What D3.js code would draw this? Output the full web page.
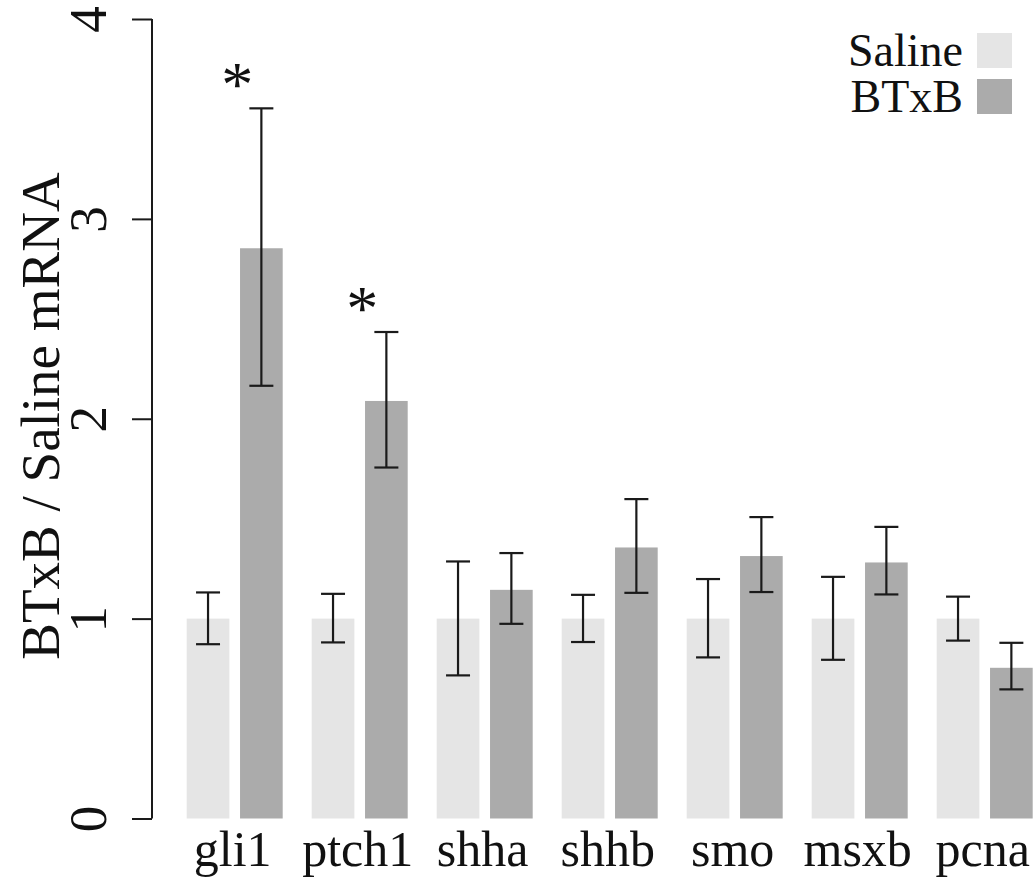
<!DOCTYPE html>
<html>
<head>
<meta charset="utf-8">
<script src="https://cdn.jsdelivr.net/npm/d3@7"></script>
<style>
  body { margin: 0; background: #fff; }
  svg text { font-family: "Liberation Serif", "DejaVu Serif", serif !important; fill: #111; }
</style>
</head>
<body>
<svg id="chart" width="1034" height="880" font-family="Liberation Serif, serif"></svg>
<script>
const genes = ['gli1', 'ptch1', 'shha', 'shhb', 'smo', 'msxb', 'pcna'];
const groups = ['Saline', 'BTxB'];
const salineMean = [1, 1, 1, 1, 1, 1, 1];
const salineLow = [0.872, 0.881, 0.716, 0.883, 0.806, 0.794, 0.89];
const salineHigh = [1.131, 1.124, 1.286, 1.119, 1.198, 1.209, 1.11];
const btxbMean = [2.853, 2.089, 1.144, 1.356, 1.313, 1.281, 0.754];
const btxbLow = [2.165, 1.756, 0.974, 1.129, 1.133, 1.121, 0.646];
const btxbHigh = [3.553, 2.434, 1.328, 1.598, 1.508, 1.459, 0.879];
const significant = ['gli1', 'ptch1'];
const yTicks = [0, 1, 2, 3, 4];

const svg = d3.select('#chart');
const colors = { Saline: '#e5e5e5', BTxB: '#ababab' };
const serif = '"Liberation Serif", serif';
const tickFont = 53;
const labelFont = 50;
const legendFont = 46;

// scales
const y = d3.scaleLinear().domain([0, 4]).range([818.5, 19]);
const x0 = d3.scaleBand().domain(genes).range([186.7, 1032.7]).paddingInner(0.232).paddingOuter(0);
const x1 = d3.scaleBand().domain(groups).range([0, x0.bandwidth()]).paddingInner(0.2);

const rows = [];
genes.forEach((g, i) => {
    rows.push({ gene: g, group: 'Saline', mean: salineMean[i], lo: salineLow[i], hi: salineHigh[i] });
    rows.push({ gene: g, group: 'BTxB', mean: btxbMean[i], lo: btxbLow[i], hi: btxbHigh[i] });
});
const cx = d => x0(d.gene) + x1(d.group) + x1.bandwidth() / 2;

// bars
svg.selectAll('rect.bar')
    .data(rows)
    .enter()
    .append('rect')
    .attr('class', 'bar')
    .attr('x', d => x0(d.gene) + x1(d.group))
    .attr('width', x1.bandwidth())
    .attr('y', d => y(d.mean))
    .attr('height', d => y(0) - y(d.mean))
    .style('fill', d => colors[d.group]);

// error bars
const err = svg.append('g').attr('stroke', '#1a1a1a').attr('stroke-width', 2.2);
const capW = 12;
rows.forEach(d => {
    err.append('line').attr('x1', cx(d)).attr('x2', cx(d)).attr('y1', y(d.lo)).attr('y2', y(d.hi));
    err.append('line').attr('x1', cx(d) - capW).attr('x2', cx(d) + capW).attr('y1', y(d.lo)).attr('y2', y(d.lo));
    err.append('line').attr('x1', cx(d) - capW).attr('x2', cx(d) + capW).attr('y1', y(d.hi)).attr('y2', y(d.hi));
});

// significance stars
rows.filter(d => d.group === 'BTxB' && significant.includes(d.gene)).forEach(d => {
    svg.append('text')
        .attr('x', cx(d) - 24)
        .attr('y', y(d.hi) - 2)
        .attr('text-anchor', 'middle')
        .style('font-family', serif)
        .style('font-size', '64px')
        .text('*');
});

// y axis
const yAxis = svg.append('g')
    .attr('transform', 'translate(152,0)')
    .call(d3.axisLeft(y).tickValues(yTicks).tickSize(20).tickFormat(d3.format('d')));
yAxis.attr('font-family', null).attr('font-size', null);
yAxis.select('.domain').attr('stroke', '#1a1a1a').attr('stroke-width', 2).attr('d', `M0,${y(0)}V${y(4)}`);
yAxis.selectAll('.tick line').attr('stroke', '#1a1a1a').attr('stroke-width', 2);
yAxis.selectAll('.tick text')
    .attr('x', null).attr('dy', null)
    .attr('transform', 'translate(-46,0) rotate(-90)')
    .attr('text-anchor', 'middle')
    .style('font-size', tickFont + 'px')
    .style('font-family', serif)
    .style('fill', '#111');

// y title
svg.append('text')
    .attr('transform', 'translate(59,416) rotate(-90)')
    .attr('text-anchor', 'middle')
    .style('font-family', serif)
    .style('font-size', '55px')
    .text('BTxB / Saline mRNA');

// x labels
svg.selectAll('text.xlab')
    .data(genes)
    .enter()
    .append('text')
    .attr('class', 'xlab')
    .attr('x', g => x0(g) + x0.bandwidth() / 2 - 2)
    .attr('y', 866)
    .attr('text-anchor', 'middle')
    .style('font-family', serif)
    .style('font-size', labelFont + 'px')
    .text(g => g);

// legend
const legend = svg.append('g');
groups.forEach((gname, i) => {
    legend.append('rect')
        .attr('x', 977).attr('y', 33 + i * 46)
        .attr('width', 35).attr('height', 35)
        .style('fill', colors[gname]);
    legend.append('text')
        .attr('x', 963).attr('y', 66 + i * 46)
        .attr('text-anchor', 'end')
        .style('font-family', serif)
        .style('font-size', legendFont + 'px')
        .text(gname);
});
</script>
</body>
</html>
